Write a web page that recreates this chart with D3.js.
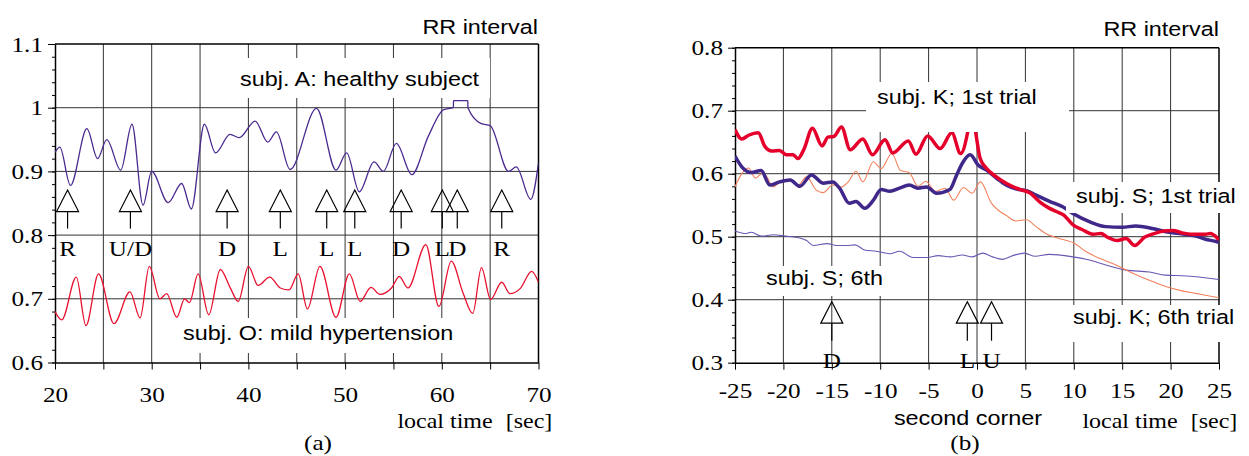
<!DOCTYPE html>
<html><head><meta charset="utf-8">
<script src="https://cdn.jsdelivr.net/npm/d3@7"></script>
<style>body{margin:0;background:#fff}svg{display:block}</style>
</head><body>
<script>
// ---------- DATA ----------
// Panel (a): RR interval [s] vs local time [sec]
const healthyA = [[20.0,0.930],[20.5,0.938],[21.6,0.878],[23.3,0.967],[24.4,0.920],[25.35,0.950],[26.8,0.902],[27.96,0.974],[29.1,0.847],[30.0,0.900],[31.7,0.851],[33.1,0.881],[34.1,0.841],[35.45,0.974],[36.6,0.929],[38.1,0.958],[39.05,0.953],[40.7,0.979],[42.0,0.946],[42.9,0.962],[44.3,0.903],[47.05,0.999],[49.06,0.902],[50.16,0.929],[51.47,0.868],[52.99,0.915],[53.96,0.900],[55.3,0.944],[56.9,0.895],[58.6,0.955],[60.2,0.997],[61.2,1.0],[61.21,1.011],[62.69,1.011],[62.7,1.0],[64.08,0.975],[65.0,0.972],[66.9,0.900],[67.7,0.907],[69.2,0.856],[70,0.913]];
const hyperO = [[20.0,0.680],[20.7,0.667],[22.2,0.734],[23.2,0.658],[24.5,0.739],[26.1,0.661],[27.75,0.711],[28.8,0.670],[29.75,0.751],[30.85,0.700],[31.55,0.708],[32.6,0.671],[33.4,0.700],[33.9,0.694],[34.8,0.739],[35.9,0.675],[37.1,0.746],[38.1,0.718],[38.95,0.696],[40.0,0.751],[41.0,0.721],[42.2,0.734],[43.3,0.717],[44.2,0.714],[45.15,0.739],[46.1,0.684],[47.4,0.751],[49.06,0.671],[50.44,0.739],[51.55,0.696],[52.68,0.718],[53.6,0.707],[54.8,0.717],[55.6,0.735],[56.5,0.717],[58.35,0.785],[59.7,0.688],[60.98,0.759],[62.2,0.709],[63.2,0.677],[64.1,0.749],[65.05,0.699],[66.2,0.726],[67.05,0.708],[68.1,0.716],[69.3,0.743],[70,0.726]];
const eventTimesA = [21.3,27.8,37.8,43.3,48.1,51.0,55.8,60.05,61.6,66.2];
const eventLabelsA = ["R","U/D","D","L","L","L","D","L","D","R"];
const yTicksA = [0.6,0.7,0.8,0.9,1.0,1.1];
const xTicksA = [20,25,30,35,40,45,50,55,60,65,70];

// Panel (b): RR interval vs local time around second corner
const k1st = [[-25,0.670],[-24.3,0.655],[-23.6,0.661],[-22.6,0.665],[-21.9,0.643],[-21.2,0.636],[-20.4,0.637],[-19.7,0.630],[-19.0,0.630],[-18.5,0.624],[-17.9,0.638],[-17.0,0.672],[-16.0,0.644],[-15.4,0.658],[-14.8,0.659],[-14.0,0.674],[-13.1,0.638],[-11.8,0.655],[-10.8,0.630],[-9.5,0.654],[-8.7,0.633],[-7.1,0.652],[-6.3,0.631],[-5.1,0.660],[-3.8,0.640],[-2.6,0.665],[-1.7,0.632],[-0.95,0.667],[-0.55,0.705],[-0.15,0.667],[0.33,0.624],[0.95,0.609],[2.0,0.595],[3.0,0.585],[4.4,0.575],[5.4,0.570],[6.5,0.555],[7.5,0.545],[8.2,0.540],[9.0,0.534],[9.9,0.519],[10.9,0.511],[12.0,0.504],[12.8,0.505],[13.5,0.499],[14.5,0.494],[15.4,0.497],[16.3,0.486],[17.3,0.499],[18.3,0.505],[19.3,0.509],[20.2,0.510],[21.2,0.506],[22.1,0.504],[23.6,0.504],[24.1,0.505],[25,0.495]];
const s1st = [[-25,0.628],[-24.3,0.611],[-23.3,0.602],[-22.3,0.605],[-21.4,0.582],[-20.4,0.587],[-19.3,0.590],[-18.3,0.580],[-17.1,0.598],[-15.9,0.585],[-14.9,0.587],[-14.2,0.577],[-13.2,0.553],[-12.5,0.556],[-11.6,0.545],[-10.7,0.558],[-9.9,0.575],[-9.0,0.572],[-8.0,0.577],[-7.0,0.582],[-6.1,0.577],[-5.2,0.579],[-4.2,0.569],[-2.8,0.575],[-2.1,0.598],[-1.5,0.617],[-0.7,0.630],[0.1,0.614],[0.95,0.606],[2.0,0.593],[3.0,0.582],[4.0,0.576],[5.1,0.573],[6.1,0.566],[7.5,0.556],[8.9,0.547],[10.0,0.536],[11.6,0.524],[13.3,0.516],[15.0,0.515],[16.4,0.517],[18.1,0.513],[19.5,0.508],[20.9,0.505],[22.6,0.501],[23.6,0.496],[24.8,0.492],[25,0.491]];
const k6th = [[-25,0.579],[-24.5,0.595],[-23.6,0.609],[-22.9,0.593],[-22.2,0.600],[-21.7,0.595],[-21.1,0.579],[-20.4,0.586],[-19.3,0.591],[-18.5,0.582],[-17.6,0.595],[-16.6,0.574],[-15.9,0.570],[-14.9,0.582],[-14.0,0.579],[-13.3,0.587],[-12.5,0.604],[-11.8,0.587],[-10.7,0.619],[-9.9,0.608],[-8.8,0.632],[-7.9,0.605],[-7.0,0.602],[-6.1,0.580],[-5.3,0.588],[-4.3,0.572],[-3.3,0.577],[-2.4,0.558],[-1.4,0.578],[-0.5,0.569],[0.35,0.587],[1.5,0.553],[2.2,0.542],[3.0,0.534],[4.0,0.525],[5.1,0.527],[6.1,0.516],[7.1,0.505],[9.0,0.495],[10.0,0.490],[11.3,0.476],[12.6,0.466],[14.35,0.455],[16.1,0.442],[17.8,0.431],[19.5,0.421],[21.2,0.414],[22.6,0.410],[23.6,0.407],[25,0.403]];
const s6th = [[-25,0.509],[-24,0.505],[-23.3,0.507],[-22.3,0.501],[-21.0,0.503],[-19.8,0.501],[-18.3,0.498],[-17.6,0.494],[-16.9,0.486],[-15.5,0.489],[-14.5,0.486],[-13.5,0.486],[-12.6,0.487],[-11.6,0.479],[-10.4,0.477],[-9.0,0.473],[-8.0,0.477],[-6.6,0.467],[-5.1,0.467],[-4.0,0.470],[-2.8,0.468],[-1.5,0.471],[-0.5,0.468],[0.6,0.474],[1.6,0.468],[2.65,0.464],[3.7,0.470],[4.9,0.474],[6.0,0.469],[7.5,0.472],[9.9,0.468],[11.6,0.463],[13.3,0.455],[15.4,0.447],[17.8,0.444],[19.5,0.439],[21.2,0.438],[22.9,0.436],[25,0.432]];
const eventTimesB = [-15,-1,1.5];
const eventLabelsB = ["D","L","U"];
const yTicksB = [0.3,0.4,0.5,0.6,0.7,0.8];
const xTicksB = [-25,-20,-15,-10,-5,0,5,10,15,20,25];

// ---------- DRAW ----------
const W=1249,H=456, SX=1.2;
const SANS='"Liberation Sans",Arial,sans-serif', SERIF='"Liberation Serif","Times New Roman",serif';
const svg=d3.select('body').append('svg').attr('width',W).attr('height',H);

function txt(g,x,y,s,o){
  return g.append('text').attr('transform',`translate(${x},${y}) scale(${SX},1)`)
    .attr('text-anchor',o.anchor||'start').style('font-family',o.serif?SERIF:SANS)
    .style('font-size',(o.size||19.5)+'px').attr('fill','#000').text(s);
}

function panel(cfg){
  const g=svg.append('g');
  const x=d3.scaleLinear(cfg.xd,cfg.xr), y=d3.scaleLinear(cfg.yd,cfg.yr);
  const [x0,x1]=cfg.xr,[y0,y1]=[cfg.yr[0],cfg.yr[1]];
  const id='clip'+cfg.name;
  g.append('clipPath').attr('id',id).append('rect').attr('x',x0).attr('y',y1).attr('width',x1-x0).attr('height',y0-y1);
  // grid
  const grid=g.append('g').attr('stroke','#333').attr('stroke-width',1);
  cfg.xTicks.slice(1,-1).forEach(v=>grid.append('line').attr('x1',x(v)).attr('x2',x(v)).attr('y1',y1).attr('y2',y0));
  cfg.yTicks.slice(1,-1).forEach(v=>grid.append('line').attr('x1',x0).attr('x2',x1).attr('y1',y(v)).attr('y2',y(v)));
  // frame top/right
  g.append('line').attr('x1',x0).attr('x2',x1).attr('y1',y1).attr('y2',y1).attr('stroke','#000').attr('stroke-width',1.5);
  g.append('line').attr('x1',x1).attr('x2',x1).attr('y1',y1).attr('y2',y0).attr('stroke','#000').attr('stroke-width',1.5);
  // minor y ticks
  const minor=d3.range(Math.round(cfg.yd[0]*100),Math.round(cfg.yd[1]*100)+1,2).map(v=>v/100);
  g.append('g').attr('transform',`translate(${x0},0)`).call(d3.axisLeft(y).tickValues(minor).tickSize(3).tickFormat('').tickSizeOuter(0))
    .call(a=>{a.select('.domain').remove();a.selectAll('line').attr('stroke','#000');});
  // y axis
  const ya=g.append('g').attr('transform',`translate(${x0},0)`).call(d3.axisLeft(y).tickValues(cfg.yTicks).tickSize(7).tickSizeOuter(0).tickFormat(cfg.yFmt));
  ya.select('.domain').attr('stroke','#000').attr('stroke-width',1.5);
  ya.selectAll('line').attr('stroke','#000');
  ya.selectAll('text').attr('x',null).attr('dy',null).attr('y',7).attr('transform',`translate(-12,0) scale(${SX},1)`)
    .style('font-family',SERIF).style('font-size','21px').attr('fill','#000');
  // x axis
  const xa=g.append('g').attr('transform',`translate(0,${y0})`).call(d3.axisBottom(x).tickValues(cfg.xTicks).tickSize(7).tickSizeOuter(0).tickFormat(cfg.xFmt));
  xa.select('.domain').attr('stroke','#000').attr('stroke-width',1.5);
  xa.selectAll('line').attr('stroke','#000');
  xa.selectAll('text').attr('dy',null).attr('y',null).attr('transform',`translate(0,${cfg.xLabY}) scale(${SX},1)`)
    .style('font-family',SERIF).style('font-size','21px').attr('fill','#000');
  xa.selectAll('.tick text').attr('text-anchor','middle');
  // series
  const line=d3.line().x(d=>x(d[0])).y(d=>y(d[1])).curve(d3.curveMonotoneX);
  const sg=g.append('g').attr('clip-path',`url(#${id})`);
  cfg.series.forEach(s=>sg.append('path').datum(s.data).attr('d',line).attr('fill','none')
    .attr('stroke',s.color).attr('stroke-width',s.w).attr('stroke-linejoin','round'));
  // arrows
  const ay=y(cfg.arrowRef);
  cfg.events.forEach((t,i)=>{
    const cx=x(t);
    const a=g.append('g').attr('stroke','#000').attr('stroke-width',1.2).attr('fill','none');
    a.append('path').attr('d',`M${cx},${ay+cfg.arr[0]}L${cx+11},${ay+cfg.arr[1]}L${cx-11},${ay+cfg.arr[1]}Z`);
    a.append('line').attr('x1',cx).attr('x2',cx).attr('y1',ay+cfg.arr[1]).attr('y2',ay+cfg.arr[2]);
    txt(g,cx,ay+cfg.arr[3],cfg.eventLabels[i],{serif:true,size:21,anchor:'middle'});
  });
  // labels with white boxes
  cfg.labels.forEach(l=>{
    g.append('rect').attr('x',l.box[0]).attr('y',l.box[1]).attr('width',l.box[2]-l.box[0]).attr('height',l.box[3]-l.box[1]).attr('fill','#fff');
    txt(g,l.x,l.y,l.text,{anchor:l.anchor||'start'});
  });
  return {g,x,y};
}

const fmt1=d=>d===1?'1':d3.format('.1f')(d);
const pa=panel({name:'a',xd:[20,70],xr:[55,538.5],yd:[0.6,1.1],yr:[362.5,44],
  xTicks:xTicksA,yTicks:yTicksA,yFmt:fmt1,xFmt:d=>d%10===0?d:'',xLabY:39,
  series:[{data:healthyA,color:'#4b2a90',w:1.3},{data:hyperO,color:'#e8102e',w:1.3}],
  events:eventTimesA,eventLabels:eventLabelsA,arrowRef:0.8,arr:[-45,-23.5,-6.5,21],
  labels:[{text:'subj. A: healthy subject',x:240,y:86,box:[236,58,490,98]},
          {text:'subj. O: mild hypertension',x:183,y:340,box:[179,318,462,353]}]});
txt(svg,538,34,'RR interval',{anchor:'end'});
txt(svg,445,428,'local time',{serif:true,size:20,anchor:'middle'});
txt(svg,529,428,'[sec]',{serif:true,size:20,anchor:'middle'});
txt(svg,318,450,'(a)',{serif:true,size:21,anchor:'middle'});

const pb=panel({name:'b',xd:[-25,25],xr:[735,1219],yd:[0.3,0.8],yr:[362.7,47.7],
  xTicks:xTicksB,yTicks:yTicksB,yFmt:d3.format('.1f'),xFmt:d=>d,xLabY:35.5,
  series:[{data:s6th,color:'#6b55b5',w:1.1},{data:k6th,color:'#f3815c',w:1.1},
          {data:s1st,color:'#40278a',w:3.5},{data:k1st,color:'#e4002b',w:3.5}],
  events:eventTimesB,eventLabels:eventLabelsB,arrowRef:0.3,arr:[-61,-39.5,-22,5.5],
  labels:[{text:'subj. K; 1st trial',x:877,y:104,box:[866,82,1069,132]},
          {text:'subj. S; 1st trial',x:1076,y:203,box:[1066,182,1245,213]},
          {text:'subj. S; 6th',x:766,y:285,box:[758,266,892,296]},
          {text:'subj. K; 6th trial',x:1073,y:324,box:[1066,305,1245,342]}]});
txt(svg,1219,36,'RR interval',{anchor:'end'});
txt(svg,968,425,'second corner',{anchor:'middle'});
txt(svg,1130,428,'local time',{serif:true,size:20,anchor:'middle'});
txt(svg,1214,428,'[sec]',{serif:true,size:20,anchor:'middle'});
txt(svg,965,450,'(b)',{serif:true,size:21,anchor:'middle'});
</script>
</body></html>
